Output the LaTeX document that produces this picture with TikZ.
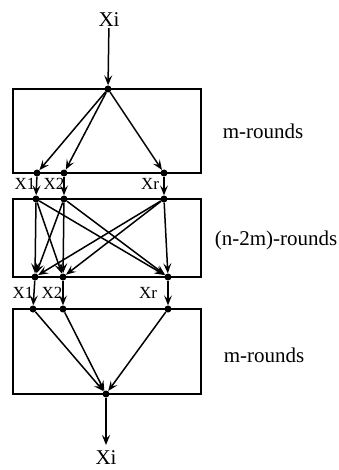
\documentclass[tikz,border=0pt]{standalone}
\usepackage{fontspec}
\setmainfont{Liberation Serif}
\usetikzlibrary{arrows.meta}
\begin{document}
\begin{tikzpicture}[x=1pt,y=-1pt,
  dot/.style={circle,fill=black,inner sep=0pt,minimum size=7pt},
  arr/.style={line width=1.5pt,-{Stealth[length=10pt,width=8pt,inset=4pt]}},
  boxst/.style={draw,line width=1.5pt},
  big/.style={font=\fontsize{21}{24}\selectfont,inner sep=1pt},
  lab/.style={font=\fontsize{17}{19}\selectfont,inner sep=0pt}]
\useasboundingbox (0,0) rectangle (339,470);
% boxes
\draw[boxst] (13,89) rectangle (201,173);
\draw[boxst] (13,199) rectangle (201,277);
\draw[boxst] (13,309) rectangle (201,394);
% texts
\node[big] (xin) at (109,20) {Xi};
\node[big] (xout) at (106,458) {Xi};
\node[big] (r1) at (263,131) {m-rounds};
\node[big] (r2) at (276,240) {(n-2m)-rounds};
\node[big] (r3) at (264,355) {m-rounds};
% dots
\node[dot] (t) at (108,89) {};
\node[dot] (a1) at (37,173) {};
\node[dot] (a2) at (64,173) {};
\node[dot] (a3) at (164,173) {};
\node[dot] (b1) at (36,199) {};
\node[dot] (b2) at (64,199) {};
\node[dot] (b3) at (164,199) {};
\node[dot] (c1) at (35,277) {};
\node[dot] (c2) at (63,277) {};
\node[dot] (c3) at (168,277) {};
\node[dot] (d1) at (33,309) {};
\node[dot] (d2) at (63,309) {};
\node[dot] (d3) at (168,309) {};
\node[dot] (e) at (106,394) {};
\coordinate (f) at (106,445);
% labels
\node[lab] (l1) at (25,184) {X1};
\node[lab] (l2) at (54,184) {X2};
\node[lab] (l3) at (150,184) {Xr};
\node[lab] (m1) at (23,293) {X1};
\node[lab] (m2) at (52,293) {X2};
\node[lab] (m3) at (148,293) {Xr};
% arrows
\draw[arr] (xin) -- (t);
\foreach \i in {a1,a2,a3} \draw[arr] (t) -- (\i);
\draw[arr] (a1) -- (b1);
\draw[arr] (a2) -- (b2);
\draw[arr] (a3) -- (b3);
\foreach \i in {b1,b2,b3} \foreach \j in {c1,c2,c3} \draw[arr] (\i) -- (\j);
\draw[arr] (c1) -- (d1);
\draw[arr] (c2) -- (d2);
\draw[arr] (c3) -- (d3);
\foreach \i in {d1,d2,d3} \draw[arr] (\i) -- (e);
\draw[arr] (e) -- (f);
\end{tikzpicture}
\end{document}
